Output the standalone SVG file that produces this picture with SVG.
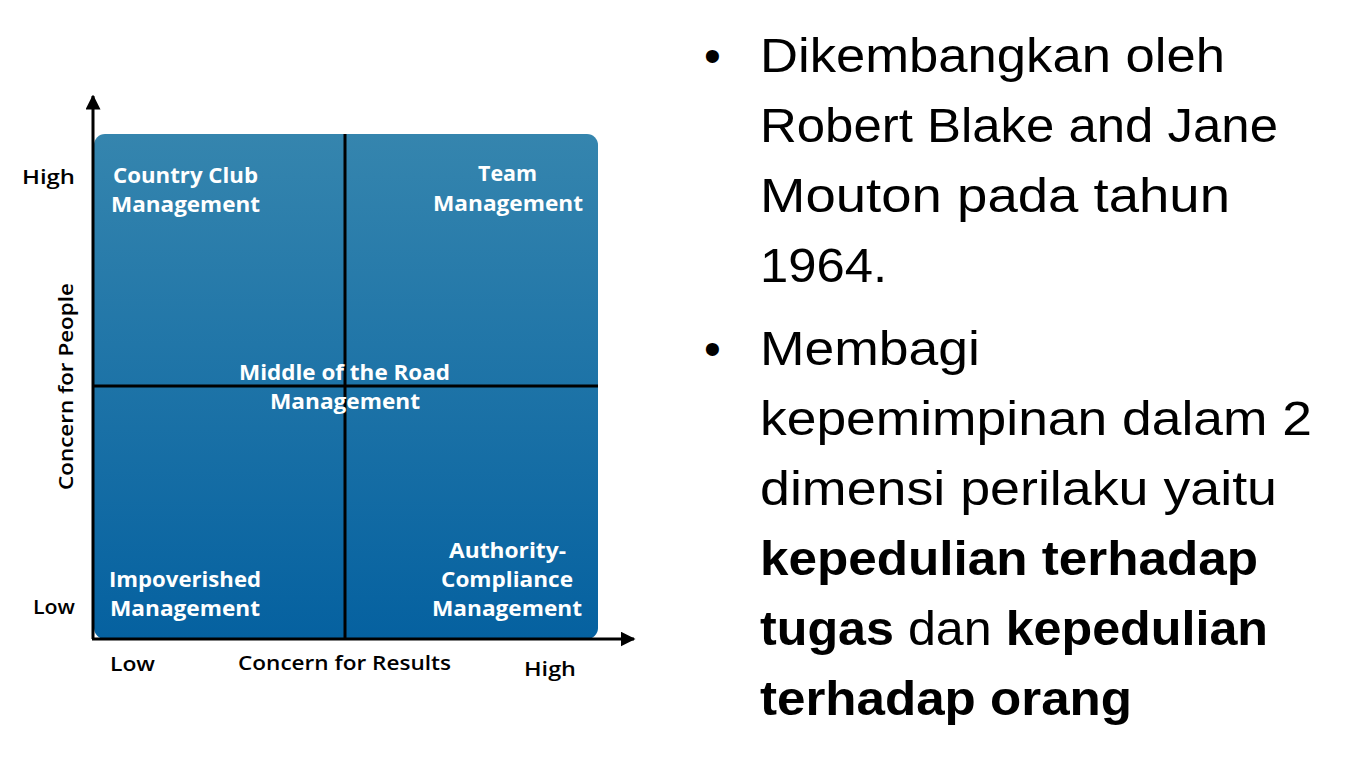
<svg xmlns="http://www.w3.org/2000/svg" width="1363" height="766" viewBox="0 0 1363 766">
<defs>
<linearGradient id="bg" x1="0" y1="0" x2="0" y2="1">
<stop offset="0" stop-color="#3585ae"/>
<stop offset="1" stop-color="#0561a0"/>
</linearGradient>
<marker id="arr" viewBox="0 0 10 10" refX="9" refY="5" markerWidth="5" markerHeight="5" markerUnits="strokeWidth" orient="auto">
<path d="M0,0 L10,5 L0,10 z" fill="#000"/>
</marker>
<style>
.q{font-family:"Open Sans","Liberation Sans",sans-serif;font-weight:700;font-size:21px;fill:#fff}
.ax{font-family:"Open Sans","Liberation Sans",sans-serif;font-weight:600;font-size:20px;fill:#000}
.b{font-family:"Liberation Sans",Arial,sans-serif;font-size:48px;fill:#000}
.bb{font-weight:700}
</style>
</defs>
<rect width="1363" height="766" fill="#fff"/>
<g id="grid">
<rect x="94" y="134" width="504" height="505" rx="11" fill="url(#bg)"/>
</g>
<g id="connectors" stroke="#000" stroke-width="3" fill="none">
<line x1="345" y1="134" x2="345" y2="639"/>
<line x1="93" y1="386" x2="598" y2="386"/>
<line x1="93" y1="639" x2="93" y2="96" marker-end="url(#arr)"/>
<line x1="92" y1="639" x2="634" y2="639" marker-end="url(#arr)"/>
</g>
<g id="country-club">
<text class="q" x="113" y="183" textLength="145" lengthAdjust="spacingAndGlyphs">Country Club</text>
<text class="q" x="111" y="212" textLength="149" lengthAdjust="spacingAndGlyphs">Management</text>
</g>
<g id="team">
<text class="q" x="478" y="181" textLength="59" lengthAdjust="spacingAndGlyphs">Team</text>
<text class="q" x="433" y="211" textLength="150" lengthAdjust="spacingAndGlyphs">Management</text>
</g>
<g id="middle">
<text class="q" x="239" y="380" textLength="211" lengthAdjust="spacingAndGlyphs">Middle of the Road</text>
<text class="q" x="270" y="409" textLength="150" lengthAdjust="spacingAndGlyphs">Management</text>
</g>
<g id="impoverished">
<text class="q" x="109" y="587" textLength="152" lengthAdjust="spacingAndGlyphs">Impoverished</text>
<text class="q" x="110" y="616" textLength="150" lengthAdjust="spacingAndGlyphs">Management</text>
</g>
<g id="authority">
<text class="q" x="449" y="558" textLength="117" lengthAdjust="spacingAndGlyphs">Authority-</text>
<text class="q" x="441" y="587" textLength="132" lengthAdjust="spacingAndGlyphs">Compliance</text>
<text class="q" x="432" y="616" textLength="150" lengthAdjust="spacingAndGlyphs">Management</text>
</g>
<g id="axis-labels">
<text class="ax" x="22" y="184" textLength="53" lengthAdjust="spacingAndGlyphs">High</text>
<text class="ax" x="33" y="614" textLength="42" lengthAdjust="spacingAndGlyphs">Low</text>
<text class="ax" x="110" y="671" textLength="45" lengthAdjust="spacingAndGlyphs">Low</text>
<text class="ax" x="238" y="670" textLength="213" lengthAdjust="spacingAndGlyphs">Concern for Results</text>
<text class="ax" x="524" y="676" textLength="52" lengthAdjust="spacingAndGlyphs">High</text>
<text class="ax" transform="translate(73,490) rotate(-90)" textLength="207" lengthAdjust="spacingAndGlyphs">Concern for People</text>
</g>
<g id="bullets">
<text class="b" x="704" y="72">•</text>
<text class="b" x="760" y="72" textLength="465" lengthAdjust="spacingAndGlyphs">Dikembangkan oleh</text>
<text class="b" x="760" y="142" textLength="518" lengthAdjust="spacingAndGlyphs">Robert Blake and Jane</text>
<text class="b" x="760" y="212" textLength="470" lengthAdjust="spacingAndGlyphs">Mouton pada tahun</text>
<text class="b" x="760" y="282" textLength="127" lengthAdjust="spacingAndGlyphs">1964.</text>
<text class="b" x="704" y="365">•</text>
<text class="b" x="760" y="365" textLength="220" lengthAdjust="spacingAndGlyphs">Membagi</text>
<text class="b" x="760" y="435" textLength="552" lengthAdjust="spacingAndGlyphs">kepemimpinan dalam 2</text>
<text class="b" x="760" y="505" textLength="517" lengthAdjust="spacingAndGlyphs">dimensi perilaku yaitu</text>
<text class="b bb" x="760" y="575" textLength="498" lengthAdjust="spacingAndGlyphs">kepedulian terhadap</text>
<text class="b" x="760" y="645" textLength="508" lengthAdjust="spacingAndGlyphs"><tspan class="bb">tugas</tspan> dan <tspan class="bb">kepedulian</tspan></text>
<text class="b bb" x="760" y="715" textLength="372" lengthAdjust="spacingAndGlyphs">terhadap orang</text>
</g>
</svg>
